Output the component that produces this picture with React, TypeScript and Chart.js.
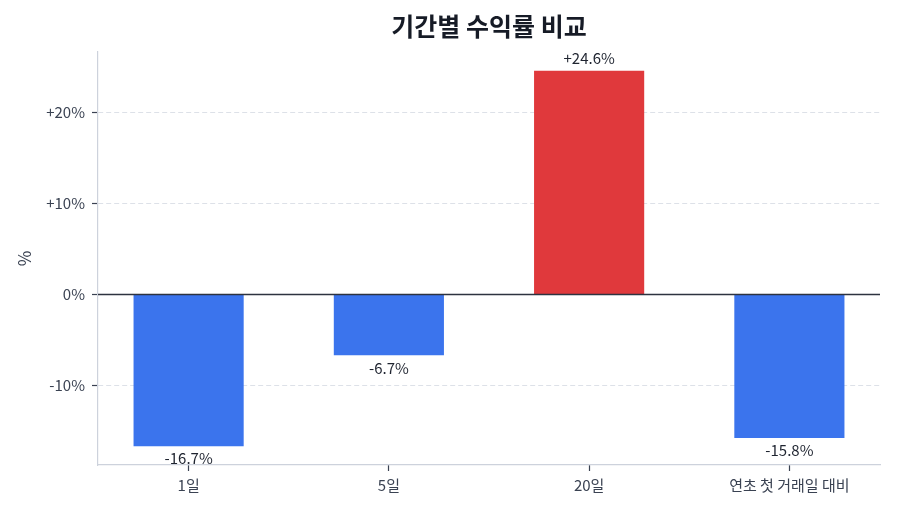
import React, { useEffect, useRef } from 'react';
import { Chart, registerables } from 'chart.js';

Chart.register(...registerables);

const categories = ['1일', '5일', '20일', '연초 첫 거래일 대비'];
const returns = [-16.7, -6.7, 24.6, -15.8];
const yTicks = [-10, 0, 10, 20];

const FONT = "'Noto Sans CJK KR', 'Noto Sans', sans-serif";
const UP = '#e0393c';
const DOWN = '#3b74ed';

const fmt = (v: number) => (v > 0 ? '+' : '') + v.toFixed(1) + '%';
const tickFmt = (v: number) => (v > 0 ? '+' : '') + v + '%';

// axis range like matplotlib's 5% margins
const span = Math.max(...returns) - Math.min(...returns);
const yMin = Math.min(...returns) - span * 0.05;
const yMax = Math.max(...returns) + span * 0.05;
const barW = 0.55;
const xSpan = categories.length - 1 + barW;
const xMin = -barW / 2 - xSpan * 0.05;
const xMax = categories.length - 1 + barW / 2 + xSpan * 0.05;

const valueLabels = {
  id: 'valueLabels',
  afterDatasetsDraw(chart: any) {
    const { ctx, chartArea, scales } = chart;
    // zero line
    const y0 = scales.y.getPixelForValue(0);
    ctx.save();
    ctx.strokeStyle = '#2d3340';
    ctx.lineWidth = 1.5;
    ctx.beginPath();
    ctx.moveTo(chartArea.left, y0);
    ctx.lineTo(chartArea.right, y0);
    ctx.stroke();

    ctx.font = `15px ${FONT}`;
    ctx.fillStyle = '#1f2430';
    ctx.textAlign = 'center';
    const meta = chart.getDatasetMeta(0);
    meta.data.forEach((bar: any, i: number) => {
      const v = returns[i];
      if (v >= 0) {
        ctx.textBaseline = 'bottom';
        ctx.fillText(fmt(v), bar.x, bar.y - 5);
      } else {
        ctx.textBaseline = 'top';
        ctx.fillText(fmt(v), bar.x, bar.y + 5);
      }
    });
    ctx.restore();
  },
};

const App = () => {
  const canvasRef = useRef<HTMLCanvasElement>(null);
  const chartRef = useRef<Chart | null>(null);

  useEffect(() => {
    document.body.style.margin = '0';
    if (!canvasRef.current) return;
    if (chartRef.current) chartRef.current.destroy();

    chartRef.current = new Chart(canvasRef.current, {
      type: 'bar',
      data: {
        datasets: [
          {
            data: returns.map((v, i) => ({ x: i, y: v })),
            backgroundColor: returns.map((v) => (v >= 0 ? UP : DOWN)),
            borderWidth: 0,
            barPercentage: barW,
            categoryPercentage: 1,
          },
        ],
      },
      options: {
        animation: false,
        responsive: false,
        layout: { padding: { left: 0, right: 20, top: 0, bottom: 0 } },
        plugins: {
          legend: { display: false },
          tooltip: { enabled: false },
          title: {
            display: true,
            text: '기간별 수익률 비교',
            fullSize: false,
            color: '#161b26',
            font: { family: FONT, size: 25, weight: 'bold', lineHeight: 1.2 },
            padding: { top: 11, bottom: 11 },
          },
        },
        scales: {
          x: {
            type: 'linear',
            min: xMin,
            max: xMax,
            offset: false,
            afterBuildTicks: (scale: any) => {
              scale.ticks = categories.map((_, i) => ({ value: i }));
            },
            afterFit: (scale: any) => {
              scale.height = 49;
            },
            ticks: {
              callback: (v: any) => categories[v] ?? '',
              color: '#3a4252',
              font: { family: FONT, size: 15 },
              padding: 5,
              maxRotation: 0,
              autoSkip: false,
            },
            grid: {
              offset: false,
              drawOnChartArea: false,
              drawTicks: true,
              tickLength: 6,
              tickColor: '#3a4252',
              tickWidth: 1.2,
            },
            border: { display: true, color: '#cdd2dc', width: 1.2 },
          },
          y: {
            min: yMin,
            max: yMax,
            afterBuildTicks: (scale: any) => {
              scale.ticks = yTicks.map((v) => ({ value: v }));
            },
            afterFit: (scale: any) => {
              scale.width = 98;
            },
            title: {
              display: true,
              text: '%',
              color: '#3a4252',
              font: { family: FONT, size: 17 },
              padding: { top: 14, bottom: 0 },
            },
            ticks: {
              callback: (v: any) => tickFmt(v),
              color: '#3a4252',
              font: { family: FONT, size: 15 },
              padding: 7,
            },
            grid: {
              color: (c: any) => (c.tick && c.tick.value === 0 ? 'rgba(0,0,0,0)' : '#dde1e8'),
              lineWidth: 1,
              tickLength: 6,
              tickColor: '#3a4252',
              tickWidth: 1.2,
            },
            border: { display: true, color: '#cdd2dc', width: 1.2, dash: [5, 3] },
          },
        },
      },
      plugins: [valueLabels],
    } as any);

    return () => {
      if (chartRef.current) {
        chartRef.current.destroy();
        chartRef.current = null;
      }
    };
  }, []);

  return (
    <div style={{ width: 900, height: 514, background: '#fff' }}>
      <canvas ref={canvasRef} width={900} height={514} />
    </div>
  );
};

export default App;
